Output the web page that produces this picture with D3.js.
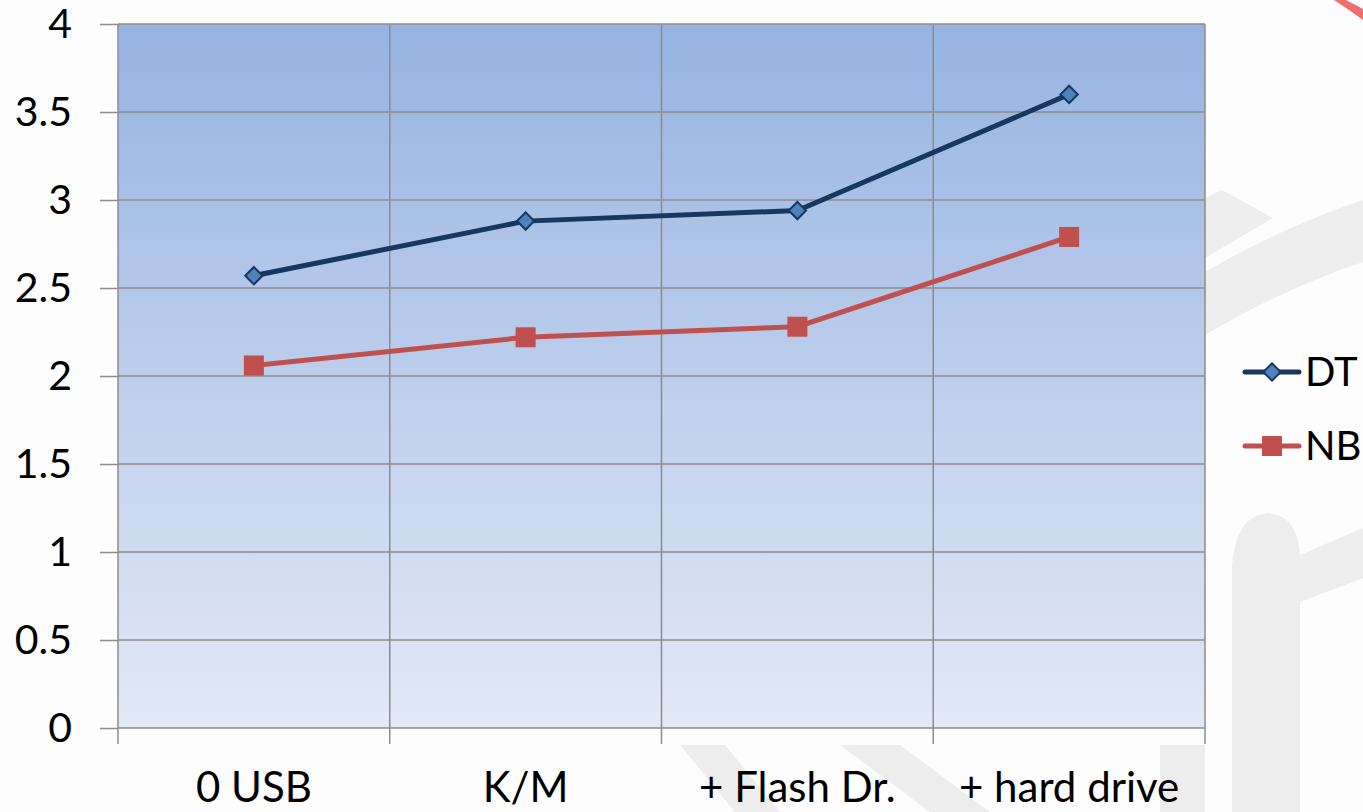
<!DOCTYPE html>
<html>
<head>
<meta charset="utf-8">
<script src="https://cdn.jsdelivr.net/npm/d3@7"></script>
<style>
body { margin: 0; background: #fdfdfd; }
.axis text { font: 41px Lato, sans-serif; fill: #000; }
.x.axis text { font-size: 42px; }
.axis path { display: none; }
.axis line { stroke: #8c8c8c; stroke-width: 1.5; }
.grid line { stroke: #8c8c8c; stroke-width: 1.5; }
.legend text { font: 40px Lato, sans-serif; fill: #000; }
</style>
</head>
<body>
<div id="chart"></div>
<script>
var categories = ["0 USB", "K/M", "+ Flash Dr.", "+ hard drive"];
var dtValues = [2.57, 2.88, 2.94, 3.60];
var nbValues = [2.06, 2.22, 2.28, 2.79];
var yTicks = [0, 0.5, 1, 1.5, 2, 2.5, 3, 3.5, 4];

var series = [
  {name: "DT", values: dtValues, line: "#17375e", fill: "#4f81bd", shape: "diamond"},
  {name: "NB", values: nbValues, line: "#c0504d", fill: "#c0504d", shape: "square"}
];

var W = 1363, H = 812;
var margin = {top: 24, right: 158, bottom: 84, left: 118};
var width = W - margin.left - margin.right,
    height = H - margin.top - margin.bottom;

var svg = d3.select("#chart").append("svg")
  .attr("width", W).attr("height", H);

// faint watermark behind everything
var wm = svg.append("g").attr("fill", "#ededed");
wm.append("path").attr("d", "M1205,198 L1222,190 L1273,218 L1205,258 Z");
wm.append("path").attr("d", "M1205,335 Q1280,290 1363,262 L1363,200 Q1280,228 1205,272 Z");
wm.append("path").attr("d", "M1232,812 L1232,565 Q1236,515 1268,513 Q1300,516 1300,560 L1300,812 Z");
wm.append("path").attr("d", "M1300,602 L1363,578 L1363,528 L1300,555 Z");
wm.append("path").attr("d", "M680,745 L725,745 L780,812 L735,812 Z");
wm.append("path").attr("d", "M840,745 L900,745 L990,812 L930,812 Z");
wm.append("path").attr("d", "M1160,745 L1205,745 L1205,812 L1160,812 Z");
svg.append("path").attr("d", "M1334,0 Q1348,9 1363,20 L1363,9 Q1352,3 1346,0 Z").attr("fill", "#ef6f6f");

var defs = svg.append("defs");
var grad = defs.append("linearGradient").attr("id", "bg")
  .attr("x1", 0).attr("y1", 0).attr("x2", 0).attr("y2", 1);
grad.append("stop").attr("offset", "0%").attr("stop-color", "#96b3e2");
grad.append("stop").attr("offset", "100%").attr("stop-color", "#e3e9f6");

var g = svg.append("g").attr("transform", "translate(" + margin.left + "," + margin.top + ")");

var x = d3.scaleBand().domain(categories).range([0, width]);
var y = d3.scaleLinear().domain([0, 4]).range([height, 0]);

g.append("rect").attr("width", width).attr("height", height).attr("fill", "url(#bg)");

// gridlines
g.append("g").attr("class", "grid")
  .selectAll("line").data(yTicks).enter().append("line")
  .attr("x1", 0).attr("x2", width)
  .attr("y1", function(d) { return y(d); }).attr("y2", function(d) { return y(d); });

var bounds = categories.map(function(c) { return x(c); }).concat([width]);
g.append("g").attr("class", "grid")
  .selectAll("line").data(bounds).enter().append("line")
  .attr("x1", function(d) { return d; }).attr("x2", function(d) { return d; })
  .attr("y1", 0).attr("y2", height);

// y axis
g.append("g").attr("class", "y axis")
  .call(d3.axisLeft(y).tickValues(yTicks).tickSize(18).tickPadding(28).tickFormat(d3.format("")));

// x axis: labels centred in bands, ticks on band boundaries
var xAxis = g.append("g").attr("class", "x axis")
  .attr("transform", "translate(0," + height + ")")
  .call(d3.axisBottom(x).tickSize(0).tickPadding(44));
xAxis.selectAll(".tick text").attr("dy", "0.71em");
xAxis.selectAll(".bound").data(bounds).enter().append("line")
  .attr("x1", function(d) { return d; }).attr("x2", function(d) { return d; })
  .attr("y1", 0).attr("y2", 16);

var line = d3.line()
  .x(function(d, i) { return x(categories[i]) + x.bandwidth() / 2; })
  .y(function(d) { return y(d); });

function marker(sel, s) {
  if (s.shape === "diamond") {
    sel.append("path")
      .attr("d", d3.symbol().type(d3.symbolSquare).size(150))
      .attr("fill", s.fill).attr("stroke", s.line).attr("stroke-width", 2);
  } else {
    sel.append("rect").attr("x", -10).attr("y", -10).attr("width", 20).attr("height", 20)
      .attr("fill", s.fill);
  }
}

series.forEach(function(s) {
  g.append("path").datum(s.values)
    .attr("d", line).attr("fill", "none")
    .attr("stroke", s.line).attr("stroke-width", 5);
  var pts = g.selectAll(".pt-" + s.name).data(s.values).enter().append("g")
    .attr("transform", function(d, i) {
      return "translate(" + (x(categories[i]) + x.bandwidth() / 2) + "," + y(d) + ")";
    });
  pts.each(function() {
    var p = d3.select(this).append("g").attr("transform", s.shape === "diamond" ? "rotate(45)" : null);
    marker(p, s);
  });
});

// legend
var legend = svg.append("g").attr("class", "legend")
  .attr("transform", "translate(1245,372)");
series.forEach(function(s, i) {
  var row = legend.append("g").attr("transform", "translate(0," + (i * 74) + ")");
  row.append("line").attr("x1", 0).attr("x2", 54)
    .attr("stroke", s.line).attr("stroke-width", 5).attr("stroke-linecap", "round");
  var m = row.append("g").attr("transform", "translate(27,0)" + (s.shape === "diamond" ? " rotate(45)" : ""));
  marker(m, s);
  row.append("text").attr("x", 60).attr("dy", "0.36em").text(s.name);
});
</script>
</body>
</html>
